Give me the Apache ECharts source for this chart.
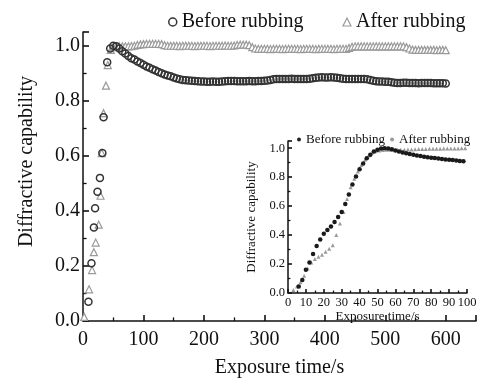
<!DOCTYPE html>
<html><head><meta charset="utf-8">
<script src="https://cdn.jsdelivr.net/npm/echarts@6/dist/echarts.min.js"></script>
<style>html,body{margin:0;padding:0;background:#fff}#c{width:491px;height:383px}</style>
</head><body><div id="c"></div>
<script>
// ---- main chart data ----
const beforeEarlyTime = [9, 14, 18, 20, 24, 28, 32, 34, 40, 45];
const beforeEarly     = [0.07, 0.21, 0.34, 0.41, 0.47, 0.52, 0.61, 0.74, 0.94, 0.99];
const afterEarlyTime  = [2, 10, 15, 18, 21, 26, 29, 31, 34, 38, 41, 46];
const afterEarly      = [0.015, 0.115, 0.185, 0.25, 0.285, 0.35, 0.455, 0.61, 0.755, 0.855, 0.93, 0.985];
const lateTime = [
  50,55,60,65,70,75,80,85,90,95,
  100,105,110,115,120,125,130,135,140,145,
  150,155,160,165,170,175,180,185,190,195,
  200,205,210,215,220,225,230,235,240,245,
  250,255,260,265,270,275,280,285,290,295,
  300,305,310,315,320,325,330,335,340,345,
  350,355,360,365,370,375,380,385,390,395,
  400,405,410,415,420,425,430,435,440,445,
  450,455,460,465,470,475,480,485,490,495,
  500,505,510,515,520,525,530,535,540,545,
  550,555,560,565,570,575,580,585,590,595,
  600];
const beforeLate = [
  1.0,0.998,0.99,0.98,0.972,0.963,0.955,0.95,0.943,0.937,
  0.931,0.925,0.92,0.915,0.91,0.905,0.90,0.896,0.892,0.889,
  0.885,0.881,0.878,0.876,0.875,0.874,0.873,0.872,0.871,0.870,
  0.870,0.869,0.869,0.870,0.869,0.869,0.870,0.871,0.872,0.872,
  0.872,0.871,0.871,0.871,0.871,0.872,0.871,0.871,0.872,0.872,
  0.873,0.874,0.876,0.878,0.879,0.879,0.879,0.879,0.879,0.880,
  0.879,0.879,0.879,0.879,0.879,0.880,0.882,0.884,0.885,0.886,
  0.885,0.885,0.886,0.885,0.884,0.882,0.880,0.879,0.879,0.879,
  0.879,0.879,0.879,0.879,0.878,0.876,0.873,0.871,0.870,0.870,
  0.869,0.869,0.867,0.866,0.865,0.865,0.866,0.866,0.865,0.865,
  0.865,0.864,0.865,0.865,0.865,0.865,0.864,0.864,0.864,0.864,
  0.863];
const afterLate = [
  0.995,0.997,0.998,0.998,0.998,0.998,0.999,1.0,1.003,1.005,
  1.006,1.007,1.007,1.007,1.007,1.007,1.006,1.002,1.0,1.0,
  1.0,1.0,0.999,1.0,1.0,1.0,1.0,0.999,1.0,1.0,
  1.0,1.0,0.999,1.0,1.0,1.0,1.0,1.001,1.0,1.0,
  1.001,1.003,1.004,1.004,1.004,1.002,0.995,0.99,0.989,0.989,
  0.989,0.989,0.988,0.989,0.989,0.989,0.988,0.989,0.989,0.989,
  0.989,0.989,0.988,0.989,0.989,0.989,0.989,0.988,0.989,0.989,
  0.989,0.989,0.989,0.988,0.989,0.989,0.989,0.989,0.992,0.996,
  0.998,0.998,0.998,0.998,0.998,0.998,0.998,0.998,0.998,0.998,
  0.998,0.998,0.998,0.998,0.998,0.998,0.998,0.995,0.99,0.986,
  0.985,0.985,0.985,0.985,0.985,0.985,0.985,0.984,0.985,0.985,
  0.984];

// ---- inset data ----
const insetBeforeTime = [6,8,10,12,14,16,18,20,22,24,26,28,30,32,34,36,38,40,42,44,46,48,50,52,54,56,58,60,62,64,66,68,70,72,74,76,78,80,82,84,86,88,90,92,94,96,98];
const insetBefore = [0.045,0.09,0.16,0.21,0.27,0.325,0.37,0.41,0.435,0.46,0.49,0.525,0.56,0.615,0.68,0.75,0.805,0.855,0.895,0.93,0.955,0.978,0.99,0.998,1.0,0.998,0.993,0.985,0.978,0.97,0.965,0.96,0.955,0.95,0.946,0.942,0.938,0.935,0.932,0.929,0.926,0.923,0.92,0.918,0.915,0.912,0.91];
const insetAfterTime = [3,5,7,9,11,13,15,17,19,21,23,25,27,29,31,33,35,37,39,41,43,45,47,49,51,53,55,57,59,61,63,65,67,69,71,73,75,77,79,81,83,85,87,89,91,93,95,97,99];
const insetAfter = [0.02,0.045,0.075,0.12,0.17,0.21,0.235,0.25,0.265,0.285,0.305,0.33,0.40,0.48,0.56,0.65,0.73,0.79,0.84,0.885,0.92,0.95,0.97,0.98,0.985,0.988,0.99,0.99,0.99,0.99,0.99,0.99,0.991,0.992,0.993,0.994,0.995,0.995,0.996,0.996,0.997,0.997,0.998,0.998,0.998,0.999,0.999,1.0,1.0];

const mainXTicks = { min: 0, max: 650, interval: 100 };
const mainYTicks = { min: 0, max: 1.05, interval: 0.2 };
const insetXTicks = { min: 0, max: 100, interval: 10 };
const insetYTicks = { min: 0, max: 1.05, interval: 0.2 };

function pairs(ts, vs) { return ts.map((t, i) => [t, vs[i]]); }

const FONT = 'Liberation Serif';
const BLACK = '#111';
const GRAYC = '#9a9a9a';

function axisCommon(fs, tickLen) {
  return {
    axisLine: { show: true, lineStyle: { color: BLACK, width: 1.5 } },
    axisTick: { show: true, inside: true, length: tickLen, lineStyle: { color: BLACK, width: 1.6 } },
    minorTick: { show: true, splitNumber: 2, length: tickLen * 0.6, lineStyle: { color: BLACK, width: 1.3 } },
    splitLine: { show: false },
    minorSplitLine: { show: false },
    nameTextStyle: { fontFamily: FONT, fontSize: fs, color: BLACK }
  };
}

const chart = echarts.init(document.getElementById('c'));
chart.setOption({
  backgroundColor: '#fff',
  animation: false,
  legend: [
    {
      left: 163, top: 7, itemWidth: 8, itemHeight: 8, itemGap: 39,
      textStyle: { fontFamily: FONT, fontSize: 20, color: BLACK },
      data: [
        { name: 'Before rubbing', icon: 'circle', itemStyle: { color: '#fff', borderColor: '#333', borderWidth: 1.5 } },
        { name: 'After rubbing', icon: 'triangle', itemStyle: { color: '#fff', borderColor: GRAYC, borderWidth: 1.2 } }
      ],
      selectedMode: false
    },
    {
      left: 292, top: 128, itemWidth: 4, itemHeight: 4, itemGap: 5,
      textStyle: { fontFamily: FONT, fontSize: 13, color: BLACK },
      data: [
        { name: 'Before rubbing', icon: 'circle', itemStyle: { color: '#222', borderWidth: 0 } },
        { name: 'After rubbing', icon: 'circle', itemStyle: { color: GRAYC, borderWidth: 0 } }
      ],
      selectedMode: false
    }
  ],
  grid: [
    { left: 83, right: 15, top: 32, bottom: 56, containLabel: false },
    { left: 288, right: 24, top: 141, bottom: 90, containLabel: false }
  ],
  xAxis: [
    Object.assign(axisCommon(20, 6), {
      type: 'value', gridIndex: 0, min: mainXTicks.min, max: mainXTicks.max, interval: mainXTicks.interval,
      name: 'Exposure time/s', nameLocation: 'middle', nameGap: 37,
      axisLabel: { fontFamily: FONT, fontSize: 20, color: BLACK, margin: 9, showMaxLabel: false }
    }),
    Object.assign(axisCommon(13, 4), {
      type: 'value', gridIndex: 1, min: insetXTicks.min, max: insetXTicks.max, interval: insetXTicks.interval,
      name: 'Exposure time/s', nameLocation: 'middle', nameGap: 15,
      axisLabel: { fontFamily: FONT, fontSize: 12.5, color: BLACK, margin: 3 }
    })
  ],
  yAxis: [
    Object.assign(axisCommon(20, 6), {
      type: 'value', gridIndex: 0, min: mainYTicks.min, max: mainYTicks.max, interval: mainYTicks.interval,
      name: 'Diffractive capability', nameLocation: 'middle', nameGap: 46,
      nameTextStyle: { fontFamily: FONT, fontSize: 20, color: BLACK, padding: [0, 0, 0, 30] },
      axisLabel: { fontFamily: FONT, fontSize: 20, color: BLACK, margin: 3, showMaxLabel: false,
        formatter: v => v.toFixed(1) }
    }),
    Object.assign(axisCommon(13, 4), {
      type: 'value', gridIndex: 1, min: insetYTicks.min, max: insetYTicks.max, interval: insetYTicks.interval,
      name: 'Diffractive capability', nameLocation: 'middle', nameGap: 30,
      axisLabel: { fontFamily: FONT, fontSize: 12.5, color: BLACK, margin: 3, showMaxLabel: false,
        formatter: v => v.toFixed(1) }
    })
  ],
  series: [
    {
      name: 'After rubbing', type: 'scatter', xAxisIndex: 0, yAxisIndex: 0,
      symbol: 'triangle', symbolSize: 7,
      itemStyle: { color: '#fff', borderColor: GRAYC, borderWidth: 1.2, opacity: 1 },
      data: pairs(afterEarlyTime, afterEarly).concat(pairs(lateTime, afterLate))
    },
    {
      name: 'Before rubbing', type: 'scatter', xAxisIndex: 0, yAxisIndex: 0,
      symbol: 'circle', symbolSize: 7,
      itemStyle: { color: 'rgba(255,255,255,0)', borderColor: '#333', borderWidth: 1.5, opacity: 1 },
      data: pairs(beforeEarlyTime, beforeEarly).concat(pairs(lateTime, beforeLate))
    },
    {
      name: 'After rubbing', type: 'scatter', xAxisIndex: 1, yAxisIndex: 1,
      symbol: 'triangle', symbolSize: 4,
      itemStyle: { color: GRAYC, opacity: 1 },
      data: pairs(insetAfterTime, insetAfter)
    },
    {
      name: 'Before rubbing', type: 'scatter', xAxisIndex: 1, yAxisIndex: 1,
      symbol: 'circle', symbolSize: 4.5,
      itemStyle: { color: '#1a1a1a', opacity: 1 },
      data: pairs(insetBeforeTime, insetBefore)
    }
  ]
});
</script>
</body></html>
